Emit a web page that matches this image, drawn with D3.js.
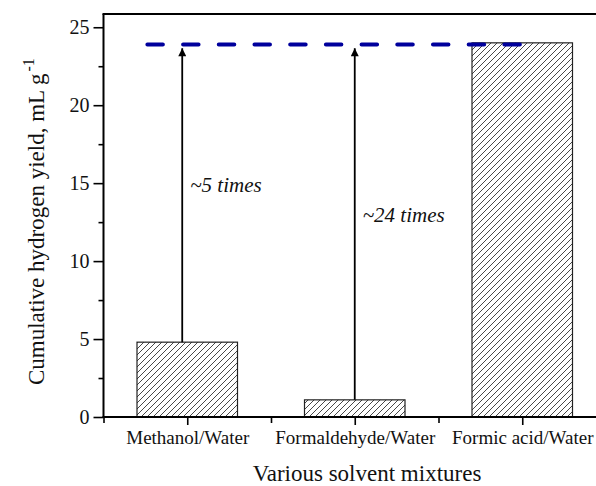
<!DOCTYPE html>
<html>
<head>
<meta charset="utf-8">
<script src="https://cdn.jsdelivr.net/npm/d3@7/dist/d3.min.js"></script>
<style>
  html, body { margin: 0; padding: 0; background: #fff; }
  svg { display: block; }
</style>
</head>
<body>
<svg id="chart" width="596" height="486"></svg>
<script>
// Cumulative hydrogen yield for each solvent mixture
const categories = ["Methanol/Water", "Formaldehyde/Water", "Formic acid/Water"];
const categoryPos = [1, 2, 3];
const yieldValues = [4.8, 1.1, 24.0];

// Reference level (formic acid yield) drawn as a dashed line
const referenceLevel = [23.9];
const referenceSpan = [0.75, 3.0];

// Enhancement arrows: x position, start value, end value, label
const arrowX = [0.97, 2.0];
const arrowFrom = [4.8, 1.1];
const arrowTo = [23.65, 23.65];
const arrowLabels = ["~5 times", "~24 times"];
const arrowLabelY = [14.45, 12.5];

const yMajorTicks = [0, 5, 10, 15, 20, 25];
const yMinorTicks = [2.5, 7.5, 12.5, 17.5, 22.5];
const xMinorTicks = [0.5, 1.5, 2.5];

const SERIF = "Liberation Serif, Times New Roman, serif";
const svg = d3.select("#chart").attr("font-family", SERIF);
const plotLeft = 103.5, plotRight = 606, plotTop = 14, plotBottom = 417;

const x = d3.scaleLinear().domain([0.5, 3.5]).range([plotLeft, plotRight]);
const y = d3.scaleLinear().domain([0, 25.85]).range([plotBottom, plotTop]);
const barWidth = x(0.6) - x(0);

// Diagonal hatch fill
const defs = svg.append("defs");
const pat = defs.append("pattern")
  .attr("id", "hatch")
  .attr("patternUnits", "userSpaceOnUse")
  .attr("width", 6).attr("height", 6);
pat.append("path")
  .attr("d", "M0,6 L6,0 M-1.5,1.5 L1.5,-1.5 M4.5,7.5 L7.5,4.5")
  .attr("stroke", "#333").attr("stroke-width", 0.9);

defs.append("marker")
  .attr("id", "arrowhead")
  .attr("viewBox", "0 0 10 10")
  .attr("refX", 10).attr("refY", 5)
  .attr("markerWidth", 9).attr("markerHeight", 8)
  .attr("markerUnits", "userSpaceOnUse")
  .attr("orient", "auto")
  .append("path")
  .attr("d", "M0,0 L10,5 L0,10 Z")
  .attr("fill", "#000");

// Bars
svg.append("g").selectAll("rect")
  .data(categoryPos.map((p, i) => ({ p, v: yieldValues[i] })))
  .join("rect")
  .attr("x", d => x(d.p) - barWidth / 2)
  .attr("y", d => y(d.v))
  .attr("width", barWidth)
  .attr("height", d => y(0) - y(d.v))
  .attr("fill", "url(#hatch)")
  .attr("stroke", "#222")
  .attr("stroke-width", 1.2);

// Arrows
svg.append("g").selectAll("line")
  .data(arrowX.map((ax, i) => ({ ax, from: arrowFrom[i], to: arrowTo[i] })))
  .join("line")
  .attr("x1", d => x(d.ax)).attr("x2", d => x(d.ax))
  .attr("y1", d => y(d.from)).attr("y2", d => y(d.to))
  .attr("stroke", "#000").attr("stroke-width", 1.8)
  .attr("marker-end", "url(#arrowhead)");

svg.append("g").selectAll("text")
  .data(arrowX.map((ax, i) => ({ ax, t: arrowLabels[i], ly: arrowLabelY[i] })))
  .join("text")
  .attr("x", d => x(d.ax) + 8)
  .attr("y", d => y(d.ly))
  .attr("font-family", SERIF)
  .attr("font-size", 21)
  .attr("font-style", "italic")
  .attr("fill", "#111")
  .text(d => d.t);

// Dashed reference line
svg.append("line")
  .attr("x1", x(referenceSpan[0]) + 2).attr("x2", x(referenceSpan[1]) - 2)
  .attr("y1", y(referenceLevel[0])).attr("y2", y(referenceLevel[0]))
  .attr("stroke", "#00009c")
  .attr("stroke-width", 4)
  .attr("stroke-linecap", "round")
  .attr("stroke-dasharray", "15.5,20.2");

// Frame: left axis, bottom axis, top border
const frame = svg.append("g").attr("stroke", "#000").attr("stroke-width", 2).attr("fill", "none");
frame.append("line").attr("x1", plotLeft).attr("x2", plotLeft).attr("y1", plotTop).attr("y2", plotBottom);
frame.append("line").attr("x1", plotLeft - 1).attr("x2", plotRight).attr("y1", plotBottom).attr("y2", plotBottom);
frame.append("line").attr("x1", plotLeft - 1).attr("x2", plotRight).attr("y1", plotTop).attr("y2", plotTop);

// Y axis
const yAxis = svg.append("g").attr("transform", `translate(${plotLeft},0)`)
  .call(d3.axisLeft(y).tickValues(yMajorTicks).tickSize(10).tickPadding(4).tickFormat(d3.format("d")));
yAxis.select(".domain").remove();
yAxis.selectAll(".tick line").attr("stroke-width", 1.6);
yAxis.selectAll(".tick text")
  .attr("font-family", SERIF).attr("font-size", 20).attr("fill", "#111");

const yMinor = svg.append("g").attr("transform", `translate(${plotLeft},0)`)
  .call(d3.axisLeft(y).tickValues(yMinorTicks).tickSize(5).tickFormat(""));
yMinor.select(".domain").remove();
yMinor.selectAll(".tick line").attr("stroke-width", 1.6);

// X axis
const xAxis = svg.append("g").attr("transform", `translate(0,${plotBottom})`)
  .call(d3.axisBottom(x).tickValues(categoryPos).tickSize(8).tickPadding(6)
    .tickFormat((d, i) => categories[i]));
xAxis.select(".domain").remove();
xAxis.selectAll(".tick line").attr("stroke-width", 1.6);
xAxis.selectAll(".tick text")
  .attr("font-family", SERIF).attr("font-size", 19).attr("fill", "#111");

const xMinor = svg.append("g").attr("transform", `translate(0,${plotBottom})`)
  .call(d3.axisBottom(x).tickValues(xMinorTicks).tickSize(6).tickFormat(""));
xMinor.select(".domain").remove();
xMinor.selectAll(".tick line").attr("stroke-width", 1.6);

// Axis titles
svg.append("text")
  .attr("x", 367).attr("y", 481)
  .attr("text-anchor", "middle")
  .attr("font-family", SERIF)
  .attr("font-size", 23)
  .attr("fill", "#111")
  .text("Various solvent mixtures");

const yt = svg.append("text")
  .attr("transform", "translate(44,385) rotate(-90)")
  .attr("font-family", SERIF)
  .attr("font-size", 23)
  .attr("fill", "#111");
yt.append("tspan").text("Cumulative hydrogen yield, mL g");
yt.append("tspan").attr("dy", -10).attr("dx", 2).attr("font-size", 16).text("-1");
</script>
</body>
</html>
